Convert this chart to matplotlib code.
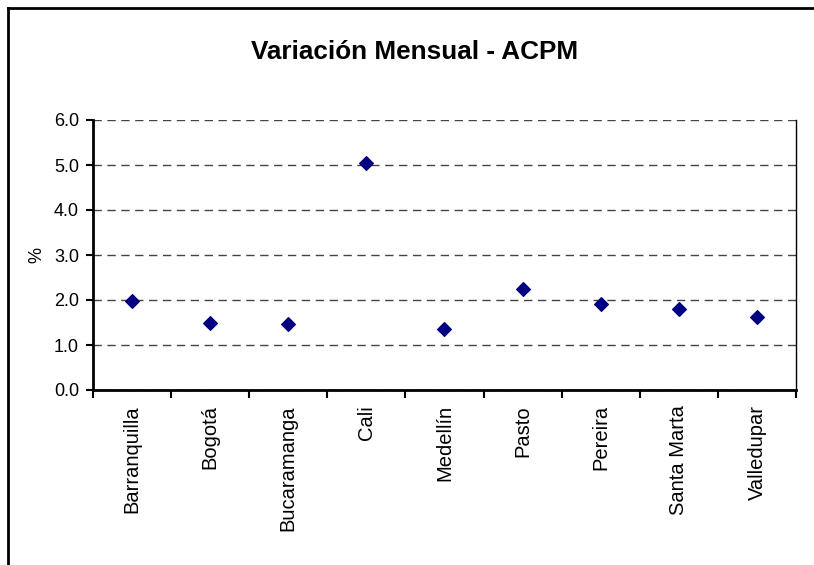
import numpy as np
import matplotlib.pyplot as plt
from matplotlib.lines import Line2D

plt.rcParams['font.family'] = ['Liberation Sans', 'DejaVu Sans']

ciudades = ['Barranquilla', 'Bogotá', 'Bucaramanga', 'Cali', 'Medellín',
            'Pasto', 'Pereira', 'Santa Marta', 'Valledupar']
variacion = [1.98, 1.48, 1.47, 5.04, 1.36, 2.25, 1.92, 1.79, 1.63]

W, H = 814, 565
fig = plt.figure(figsize=(W / 100, H / 100), dpi=100)
ax = fig.add_axes([93 / W, 1 - 390 / H, (796 - 93) / W, (390 - 120) / H])

x = np.arange(len(ciudades))
ax.scatter(x, variacion, marker='D', s=48, color='#000080', zorder=3)

ax.set_xlim(-0.5, len(ciudades) - 0.5)
ax.set_ylim(0, 6)
yt = np.arange(0, 6.1, 1.0)
ax.set_yticks(yt)
ax.set_yticklabels([f'{v:.1f}' for v in yt], fontsize=13)
ax.set_xticks(x)
ax.set_xticklabels(ciudades, rotation=90, fontsize=14.5)
ax.tick_params(axis='x', which='major', length=0, pad=11)
ax.set_xticks(np.arange(-0.5, len(ciudades), 1.0), minor=True)
ax.tick_params(axis='x', which='minor', length=6, width=1.5, direction='out')
ax.tick_params(axis='y', length=5, width=1.5, direction='out', pad=5)

ax.yaxis.grid(True, linestyle=(0, (6, 4)), color='#444444', linewidth=1)
ax.set_axisbelow(True)

for s in ['left', 'bottom']:
    ax.spines[s].set_linewidth(2)
ax.spines['right'].set_linewidth(1)
ax.spines['top'].set_visible(False)

ax.set_ylabel('%', fontsize=13, labelpad=6)

fig.text(415 / W, 1 - 52 / H, 'Variación Mensual - ACPM',
         ha='center', va='center', fontsize=18.8, fontweight='bold')

# outer chart frame (left and top edges)
fx0, fy0 = 8 / W, 1 - 8 / H
fig.add_artist(Line2D([fx0, fx0], [0, fy0], color='black', lw=2, transform=fig.transFigure))
fig.add_artist(Line2D([fx0, 1], [fy0, fy0], color='black', lw=2, transform=fig.transFigure))

fig.savefig('out.png', dpi=100)
